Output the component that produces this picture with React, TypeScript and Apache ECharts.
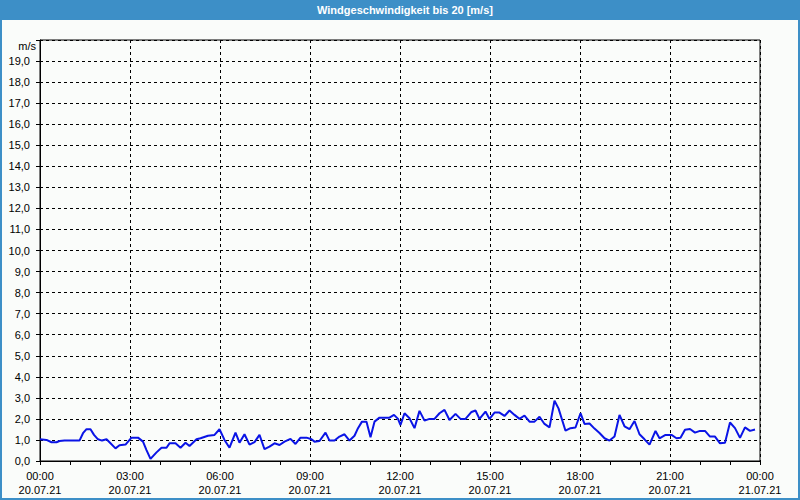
import React, { useEffect, useRef } from "react";
import * as echarts from "echarts";

const chartTitle = "Windgeschwindigkeit bis 20 [m/s]";
const unitLabel = "m/s";
const timeLabels = ["00:00", "03:00", "06:00", "09:00", "12:00", "15:00", "18:00", "21:00", "00:00"];
const dateLabels = ["20.07.21", "20.07.21", "20.07.21", "20.07.21", "20.07.21", "20.07.21", "20.07.21", "20.07.21", "21.07.21"];

// minutes since 20.07.21 00:00
const sampleMinutes = [
  0, 13, 23, 33, 39, 49, 79, 86, 93, 101, 108, 116, 124, 133, 141, 151, 159, 171, 183,
  196, 206, 213, 221, 233, 243, 253, 259, 271, 281, 291, 299, 313, 321, 336, 349, 359,
  369, 379, 391, 399, 409, 419, 429, 439, 449, 459, 469, 479, 489, 501, 511, 521, 533, 543,
  549, 559, 571, 579, 589, 599, 609, 619, 629, 636, 644, 653, 661, 669, 679, 699, 708, 716, 721,
  729, 739, 749, 759, 769, 779, 789, 799, 809, 819, 831, 841, 851, 863, 871, 879, 891, 899,
  909, 919, 929, 939, 949, 959, 969, 979, 989, 999, 1009, 1019, 1029, 1037, 1051, 1061, 1071, 1081,
  1089, 1099, 1109, 1119, 1129, 1139, 1149, 1159, 1169, 1179, 1189, 1199, 1209, 1219, 1231, 1239, 1251, 1263,
  1273, 1281, 1290, 1300, 1310, 1320, 1330, 1340, 1350, 1360, 1370, 1380, 1390, 1400, 1410, 1420, 1430,
];
const windSpeed = [
  1.03, 1.0, 0.89, 0.89, 0.95, 0.97, 0.97, 1.32, 1.51, 1.51, 1.24, 1.03, 0.97, 1.03, 0.84, 0.6, 0.75, 0.78, 1.11,
  1.11, 0.92, 0.52, 0.1, 0.41, 0.63, 0.63, 0.84, 0.84, 0.63, 0.87, 0.71, 1.03, 1.08, 1.2, 1.24, 1.51,
  1.0, 0.63, 1.35, 0.87, 1.27, 0.78, 0.9, 1.24, 0.56, 0.68, 0.84, 0.76, 0.92, 1.05, 0.81, 1.11, 1.11, 1.03,
  0.92, 0.95, 1.35, 0.97, 0.97, 1.16, 1.27, 0.97, 1.2, 1.56, 1.87, 1.87, 1.13, 1.87, 2.06, 2.06, 2.19, 2.0, 1.71,
  2.27, 2.03, 1.56, 2.38, 1.92, 2.0, 2.0, 2.27, 2.43, 1.95, 2.24, 2.0, 2.0, 2.33, 2.4, 2.0, 2.35, 2.0,
  2.3, 2.3, 2.14, 2.4, 2.19, 2.0, 2.16, 1.87, 1.87, 2.1, 1.76, 1.6, 2.86, 2.5, 1.44, 1.56, 1.59, 2.27,
  1.76, 1.78, 1.54, 1.33, 1.08, 0.97, 1.16, 2.19, 1.65, 1.51, 1.9, 1.27, 1.03, 0.78, 1.43, 1.08, 1.24, 1.24,
  1.08, 1.1, 1.48, 1.52, 1.35, 1.43, 1.43, 1.16, 1.16, 0.84, 0.87, 1.83, 1.56, 1.1, 1.6, 1.43, 1.5,
];

const FRAME_BLUE = "#3d8fc7";
const FONT = "Liberation Sans";

export default function App() {
  const ref = useRef<HTMLDivElement>(null);
  useEffect(() => {
    if (!ref.current) return;
    const chart = echarts.init(ref.current, undefined, { renderer: "svg" });
    const data = sampleMinutes.map((m, i) => [m, windSpeed[i]]);
    chart.setOption({
      animation: false,
      backgroundColor: "#fafcfa",
      textStyle: { fontFamily: FONT },
      grid: {
        left: 40,
        right: 40,
        top: 40,
        bottom: 39,
        show: true,
        borderColor: "#000",
        borderWidth: 1,
        backgroundColor: "transparent",
      },
      xAxis: {
        type: "value",
        min: 0,
        max: 1440,
        interval: 180,
        axisLine: { show: true, lineStyle: { color: "#000", width: 1 } },
        axisTick: { show: true, length: 4, lineStyle: { color: "#000" } },
        minorTick: { show: true, splitNumber: 3, length: 4, lineStyle: { color: "#000" } },
        splitLine: { show: true, lineStyle: { color: "#000", type: [3, 3], width: 1 } },
        axisLabel: {
          color: "#000",
          fontSize: 11,
          fontFamily: FONT,
          margin: 8,
          lineHeight: 14,
          showMinLabel: true,
          showMaxLabel: true,
          formatter: (v: number) => {
            const idx = Math.round(v / 180);
            return `${timeLabels[idx]}\n${dateLabels[idx]}`;
          },
        },
      },
      yAxis: {
        type: "value",
        min: 0,
        max: 20,
        interval: 1,
        axisLine: { show: true, lineStyle: { color: "#000", width: 1 } },
        axisTick: { show: true, length: 4, lineStyle: { color: "#000" } },
        splitLine: { show: true, lineStyle: { color: "#000", type: [3, 3], width: 1 } },
        axisLabel: {
          color: "#000",
          fontSize: 11,
          fontFamily: FONT,
          margin: 10,
          formatter: (v: number) => (v >= 20 ? "" : v.toFixed(1).replace(".", ",")),
        },
      },
      graphic: [
        {
          type: "rect",
          shape: { x: 0, y: 0, width: 800, height: 20 },
          style: { fill: FRAME_BLUE },
          silent: true,
        },
        {
          type: "rect",
          shape: { x: 1, y: 1, width: 798, height: 498 },
          style: { fill: "none", stroke: FRAME_BLUE, lineWidth: 2 },
          silent: true,
        },
        {
          type: "text",
          x: 405,
          y: 10,
          style: {
            text: chartTitle,
            fill: "#fff",
            font: `bold 11px ${FONT}`,
            align: "center",
            verticalAlign: "middle",
          },
          silent: true,
        },
        {
          type: "text",
          x: 36,
          y: 46,
          style: {
            text: unitLabel,
            fill: "#000",
            font: `11px ${FONT}`,
            align: "right",
            verticalAlign: "middle",
          },
          silent: true,
        },
      ],
      series: [
        {
          type: "line",
          data,
          showSymbol: false,
          symbol: "none",
          lineStyle: { color: "#0a14e6", width: 2 },
          z: 5,
        },
      ],
    });
    return () => chart.dispose();
  }, []);
  return (
    <div
      ref={ref}
      style={{ position: "fixed", left: 0, top: 0, width: 800, height: 500 }}
    />
  );
}
